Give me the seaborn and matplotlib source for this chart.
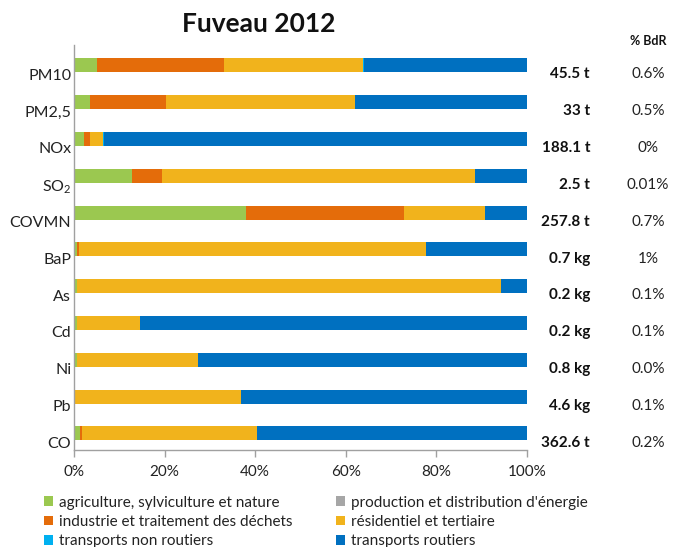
import matplotlib
matplotlib.use("Agg")
import matplotlib.pyplot as plt
import matplotlib.transforms as mtransforms
from matplotlib.patches import Patch
import numpy as np
import pandas as pd
import seaborn as sns

categories = ["PM10", "PM2,5", "NOx", "SO$_2$", "COVMN", "BaP", "As", "Cd", "Ni", "Pb", "CO"]
sectors = ["agriculture, sylviculture et nature", "production et distribution d'énergie",
           "industrie et traitement des déchets", "résidentiel et tertiaire",
           "transports non routiers", "transports routiers"]
agriculture = [5.0, 3.5, 2.1, 12.7, 37.9, 0.6, 0.6, 0.6, 0.6, 0.2, 1.3]
energie     = [0.0, 0.0, 0.0, 0.0, 0.0, 0.0, 0.0, 0.0, 0.0, 0.0, 0.0]
industrie   = [28.1, 16.8, 1.4, 6.8, 34.9, 0.4, 0.0, 0.0, 0.0, 0.0, 0.4]
residentiel = [30.8, 41.7, 3.0, 69.1, 17.9, 76.6, 93.7, 14.0, 26.7, 36.7, 38.7]
non_routier = [0.1, 0.1, 0.2, 0.0, 0.0, 0.0, 0.0, 0.0, 0.0, 0.0, 0.0]
routier     = [36.0, 37.9, 93.3, 11.4, 9.3, 22.4, 5.7, 85.4, 72.7, 63.1, 59.6]
totals = ["45.5 t", "33 t", "188.1 t", "2.5 t", "257.8 t", "0.7 kg", "0.2 kg",
          "0.2 kg", "0.8 kg", "4.6 kg", "362.6 t"]
pct_bdr = ["0.6%", "0.5%", "0%", "0.01%", "0.7%", "1%", "0.1%", "0.1%", "0.0%", "0.1%", "0.2%"]
colors = ["#9BC850", "#A6A6A6", "#E46C0A", "#F1B31C", "#00B0F0", "#0070C0"]

sns.set_theme(style="white")
plt.rcParams['font.family'] = ['Lato', 'DejaVu Sans']
plt.rcParams['mathtext.default'] = 'regular'

series = [agriculture, energie, industrie, residentiel, non_routier, routier]
df = pd.DataFrame({name: vals for name, vals in zip(sectors, series)})
df["cat"] = categories
cum = df[sectors].cumsum(axis=1)

fig = plt.figure(figsize=(6.75, 5.47), dpi=100)
ax = fig.add_axes([74/675, 1-450/547, (527-74)/675, (450-45)/547])

for i in range(len(sectors) - 1, -1, -1):
    d = pd.DataFrame({"cat": categories, "v": cum[sectors[i]].values})
    sns.barplot(data=d, x="v", y="cat", color=colors[i], orient="h", width=0.38,
                linewidth=0, saturation=1, ax=ax)

ax.set_xlim(0, 100)
ax.set_ylim(10.45, -0.55)
ax.set_xticks([0, 20, 40, 60, 80, 100])
ax.set_xticklabels(["0%", "20%", "40%", "60%", "80%", "100%"], fontsize=11, color="#222222")
ax.set_xlabel("")
ax.set_ylabel("")
ax.tick_params(axis="x", direction="out", length=5, color="#A0A0A0", width=1, pad=6, bottom=True)
ax.tick_params(axis="y", length=0, labelsize=11.5, labelcolor="#222222", pad=2)
for s in ["top", "right"]:
    ax.spines[s].set_visible(False)
for s in ["left", "bottom"]:
    ax.spines[s].set_color("#A0A0A0")
    ax.spines[s].set_linewidth(1)

offset = mtransforms.ScaledTranslation(0, -9/100, fig.dpi_scale_trans)
for lab in ax.get_yticklabels():
    lab.set_transform(lab.get_transform() + offset)

trans = mtransforms.blended_transform_factory(fig.transFigure, ax.transData)
for i, (t, p) in enumerate(zip(totals, pct_bdr)):
    ax.text(590/675, i + 0.25, t, transform=trans, ha="right", va="center",
            fontsize=11, fontweight="bold", color="#111111")
    ax.text(648/675, i + 0.25, p, transform=trans, ha="center", va="center",
            fontsize=11, color="#222222")
fig.text(648/675, 1-41/547, "% BdR", ha="center", va="center", fontsize=9, fontweight="bold", color="#111111")
fig.text(259/675, 1-24/547, "Fuveau 2012", ha="center", va="center", fontsize=19, fontweight="bold", color="#111111")

order = [0, 2, 4, 1, 3, 5]
handles = [Patch(facecolor=colors[k], edgecolor="none") for k in order]
labels = [sectors[k] for k in order]
fig.legend(handles, labels, ncol=2, loc="lower left", bbox_to_anchor=(30/675, -15/547),
           frameon=False, fontsize=11, handlelength=0.6, handleheight=0.6, handletextpad=0.4,
           columnspacing=2.85, labelspacing=0.35, labelcolor="#222222")

fig.savefig("out.png", dpi=100)
